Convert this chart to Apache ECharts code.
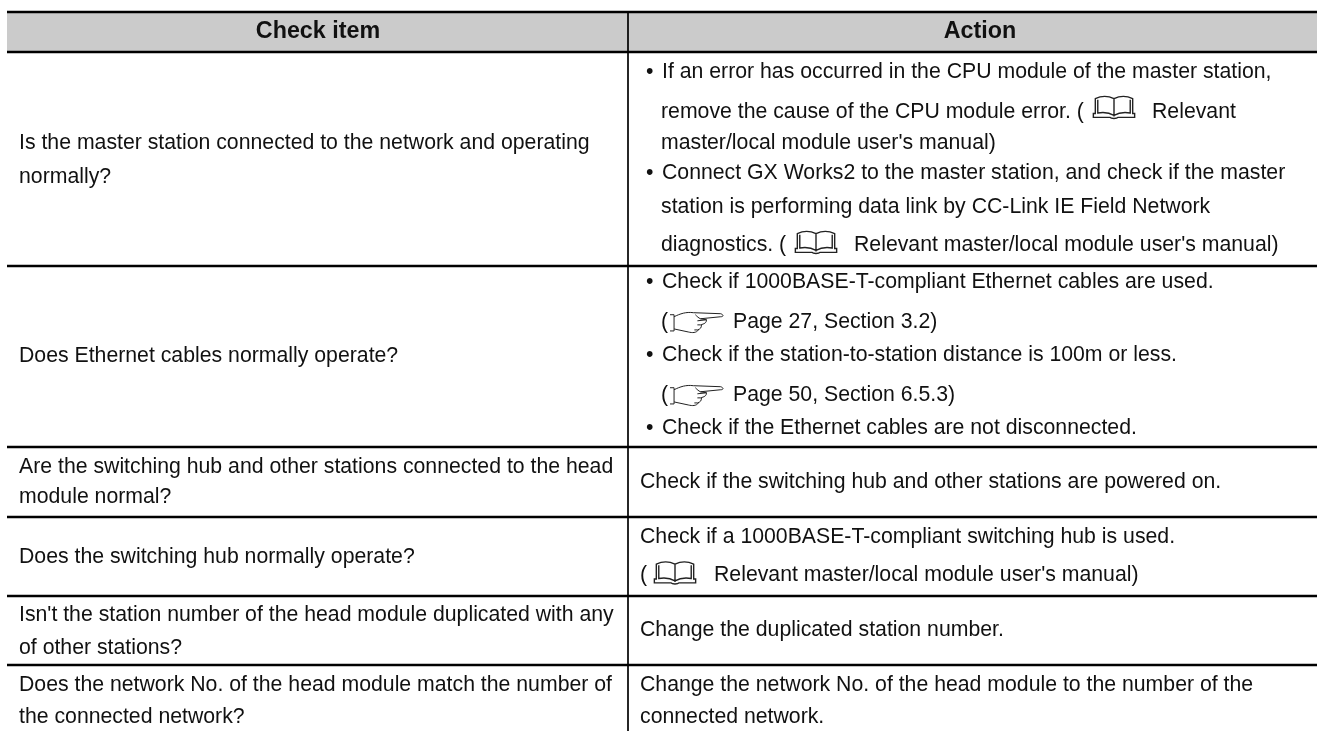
<!DOCTYPE html>
<html>
<head>
<meta charset="utf-8">
<style>html,body{margin:0;padding:0;background:#fff}#main{width:1317px;height:731px}</style>
<script src="https://cdn.jsdelivr.net/npm/echarts@6/dist/echarts.min.js"></script>
</head>
<body>
<div id="main"></div>
<script>
// table content
var headers = ['Check item', 'Action'];
var checkItems = [
	['Is the master station connected to the network and operating', 'normally?'],
	['Does Ethernet cables normally operate?'],
	['Are the switching hub and other stations connected to the head', 'module normal?'],
	['Does the switching hub normally operate?'],
	["Isn't the station number of the head module duplicated with any", 'of other stations?'],
	['Does the network No. of the head module match the number of', 'the connected network?']
];
var actionLines = [
	'\u2022If an error has occurred in the CPU module of the master station,',
	'remove the cause of the CPU module error. (',
	'Relevant',
	"master/local module user's manual)",
	'\u2022Connect GX Works2 to the master station, and check if the master',
	'station is performing data link by CC-Link IE Field Network',
	'diagnostics. (',
	"Relevant master/local module user's manual)",
	'\u2022Check if 1000BASE-T-compliant Ethernet cables are used.',
	'(',
	'Page 27, Section 3.2)',
	'\u2022Check if the station-to-station distance is 100m or less.',
	'(',
	'Page 50, Section 6.5.3)',
	'\u2022Check if the Ethernet cables are not disconnected.',
	'Check if the switching hub and other stations are powered on.',
	'Check if a 1000BASE-T-compliant switching hub is used.',
	'(',
	"Relevant master/local module user's manual)",
	'Change the duplicated station number.',
	'Change the network No. of the head module to the number of the',
	'connected network.'
];

// layout, in page pixels on the hidden axes
var ruleY = [12, 52, 266, 447, 517, 596, 665];
var leftX = 7, midX = 628, rightX = 1317;
var checkX = 19;
var checkLineY = [[143, 177], [356], [467, 497], [557], [615, 648], [685, 717]];
var actionPos = [
	[662, 72], [661, 112], [1152, 112], [661, 143], [662, 173], [661, 207], [661, 245], [854, 245],
	[662, 282], [661, 322], [733, 322], [662, 355], [661, 395], [733, 395], [662, 428],
	[640, 482], [640, 537], [640, 575], [714, 575], [640, 630], [640, 685], [640, 717]
];
var bookPos = [[1093, 107.5], [795, 242.5], [654, 573]];
var handPos = [[670, 322.5], [670, 395.5]];

var font = '"Liberation Sans", Arial, sans-serif';
var textSize = 21.25;
var headSize = 23.3;
var bulletGap = 16;

var BOOK = 'M2 3 C8 0 15 0 21 3 C27 0 34 0 40 3 L40 18 L42 18 L42 22 L25 22 C24 23.5 18 23.5 17 22 L0 22 L0 18 L2 18 Z M21 3 L21 21 M4.5 4 L4.5 17.5 C10 16.5 16 17 21 20 C26 17 32 16.5 37.5 17.5 L37.5 4';
var HAND = 'M0 3 L4 3 L4 19 L0 19 M4 5 C10 2 16 0 23 1 L50 2 C53 3 53 5 50 5 L30 7 M25 3 C27 5 28 6 30 7 L36 8 L27 9 M36 8 C36 11 34 12 30 13 L27 13 M31 13 C31 16 30 17 27 18 L24 18 M28 18 C26 21 22 21 18 20 L4 17';

function textItem(p, text, size, weight, align) {
	return {
		type: 'text',
		style: {
			x: p[0], y: p[1], text: text, fill: '#111',
			font: (weight || 'normal') + ' ' + size + 'px ' + font,
			textAlign: align || 'left', textVerticalAlign: 'middle'
		}
	};
}

function iconItem(p, d, w, h, lw) {
	return {
		type: 'path',
		shape: { pathData: d, x: p[0], y: p[1] - h / 2, width: w, height: h },
		style: { fill: 'none', stroke: '#222', lineWidth: lw }
	};
}

function renderTable(params, api) {
	var pt = function(x, y) { return api.coord([x, y]); };
	var kids = [];

	// header band
	var a = pt(leftX, ruleY[0]), b = pt(rightX, ruleY[1]);
	kids.push({ type: 'rect', shape: { x: a[0], y: a[1], width: b[0] - a[0], height: b[1] - a[1] }, style: { fill: '#cbcbcb' } });

	ruleY.forEach(function(y) {
		var s = pt(leftX, y), e = pt(rightX, y);
		kids.push({ type: 'line', shape: { x1: s[0], y1: s[1], x2: e[0], y2: e[1] }, style: { stroke: '#000', lineWidth: 2.3 } });
	});
	var s = pt(midX, ruleY[0]), e = pt(midX, 731);
	kids.push({ type: 'line', shape: { x1: s[0], y1: s[1], x2: e[0], y2: e[1] }, style: { stroke: '#000', lineWidth: 1.7 } });

	kids.push(textItem(pt(318, 32), headers[0], headSize, 'bold', 'center'));
	kids.push(textItem(pt(980, 32), headers[1], headSize, 'bold', 'center'));

	checkItems.forEach(function(lines, i) {
		lines.forEach(function(t, j) {
			kids.push(textItem(pt(checkX, checkLineY[i][j]), t, textSize));
		});
	});
	actionLines.forEach(function(t, i) {
		var p = actionPos[i];
		// bullet sits apart from its line
		if (t.charAt(0) === '\u2022') {
			kids.push(textItem(pt(p[0] - bulletGap, p[1]), '\u2022', textSize));
			t = t.slice(1);
		}
		kids.push(textItem(pt(p[0], p[1]), t, textSize));
	});
	bookPos.forEach(function(p) { kids.push(iconItem(pt(p[0], p[1]), BOOK, 42, 22, 1.4)); });
	handPos.forEach(function(p) { kids.push(iconItem(pt(p[0], p[1]), HAND, 53, 21, 1)); });

	return { type: 'group', children: kids };
}

var chart = echarts.init(document.getElementById('main'), null, { renderer: 'canvas' });
chart.setOption({
	animation: false,
	backgroundColor: '#fff',
	grid: { left: 0, right: 0, top: 0, bottom: 0 },
	xAxis: { type: 'value', min: 0, max: 1317, show: false },
	yAxis: { type: 'value', min: 0, max: 731, inverse: true, show: false },
	series: [{ type: 'custom', data: [[0, 0]], renderItem: renderTable, clip: false, silent: true }]
});
</script>
</body>
</html>
